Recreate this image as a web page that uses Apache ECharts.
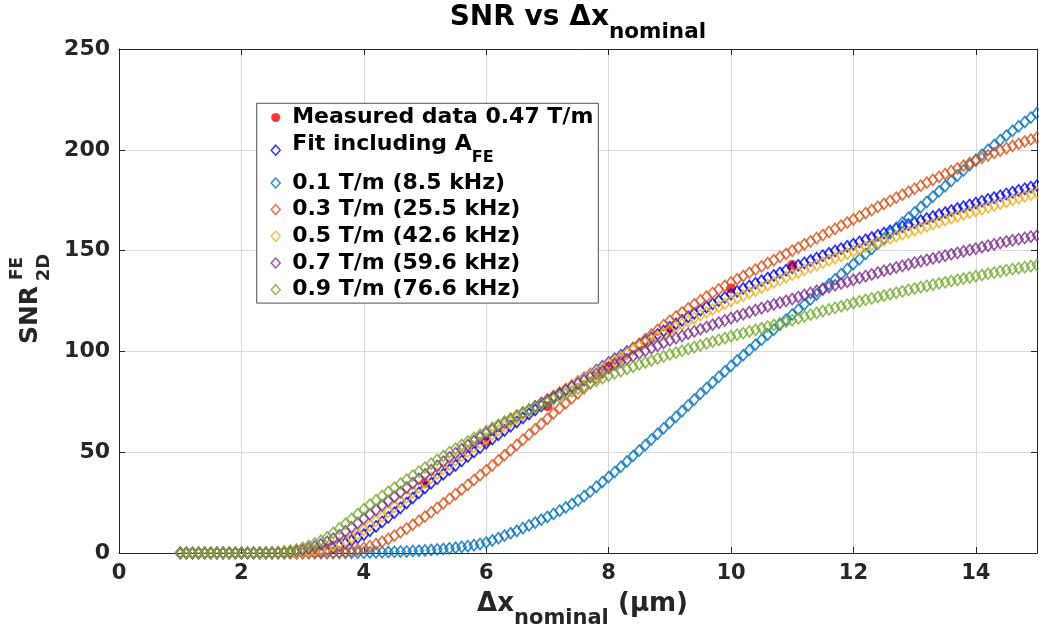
<!DOCTYPE html>
<html><head><meta charset="utf-8">
<script src="https://cdn.jsdelivr.net/npm/echarts@6/dist/echarts.min.js"></script>
<style>html,body{margin:0;padding:0;background:#fff}#c{width:1039px;height:635px}</style>
</head><body><div id="c"></div>
<script>
// ---- data ----
const xStart = 1.0;   // first sample (um)
const xStep = 0.1;    // sample spacing (um)
const xTickLabels = ['0','2','4','6','8','10','12','14'];
const yTickLabels = ['0','50','100','150','200','250'];
const seriesNames = ['Measured data 0.47 T/m','Fit including A_FE','0.1 T/m (8.5 kHz)','0.3 T/m (25.5 kHz)','0.5 T/m (42.6 kHz)','0.7 T/m (59.6 kHz)','0.9 T/m (76.6 kHz)'];

const measuredX = [5,6,7,8,9,10,11];
const measuredY = [34.6,55.4,72.8,92.4,110.8,131.2,142.9];

const fitY = [
0,0,0,0,0,0,0,0,0,0,
0,0,0,0,0,0,0,0,0,0.1,
0.3,0.5,0.8,1.3,1.9,2.7,3.7,4.9,6.2,7.6,
9.1,11.1,13.2,15.4,17.7,20.0,22.4,24.8,27.3,29.8,
32.3,34.6,36.9,39.1,41.3,43.5,45.7,47.9,50.1,52.3,
54.5,56.6,58.7,60.8,62.9,65.0,67.0,69.0,71.0,73.0,
75.0,77.0,79.0,81.0,83.0,85.0,86.9,88.8,90.7,92.6,
94.5,96.3,98.1,99.9,101.6,103.3,105.0,106.7,108.4,110.2,
112.0,113.7,115.4,117.1,118.8,120.4,122.0,123.6,125.2,126.8,
128.4,129.8,131.2,132.5,133.8,135.1,136.4,137.7,139.0,140.3,
141.5,142.7,143.9,145.1,146.3,147.5,148.7,149.9,151.0,152.1,
153.2,154.3,155.4,156.5,157.6,158.7,159.8,160.9,161.9,162.9,
163.9,164.9,165.9,166.9,167.9,168.9,169.9,170.9,171.8,172.7,
173.6,174.5,175.4,176.3,177.2,178.1,179.0,179.9,180.7,181.5,
182.3];

const g01Y = [
0,0,0,0,0,0,0,0,0,0,
0,0,0,0,0,0,0,0,0,0,
0,0,0,0,0,0,0.1,0.1,0.1,0.2,
0.2,0.3,0.3,0.4,0.5,0.6,0.7,0.8,1.0,1.1,
1.3,1.5,1.8,2.0,2.3,2.6,3.0,3.4,3.9,4.5,
5.2,6.2,7.4,8.6,9.8,11.0,12.3,13.7,15.1,16.5,
17.9,19.4,21.0,22.6,24.3,26.1,28.2,30.4,32.8,35.2,
37.7,40.2,42.8,45.4,48.1,50.8,53.5,56.3,59.1,61.9,
64.7,67.5,70.4,73.2,76.1,79.0,81.8,84.6,87.4,90.1,
92.8,95.5,98.1,100.7,103.3,105.8,108.3,110.8,113.3,115.8,
118.3,120.8,123.3,125.8,128.3,130.8,133.3,135.8,138.3,140.8,
143.3,145.8,148.3,150.8,153.4,156.0,158.6,161.2,163.8,166.4,
169.0,171.6,174.2,176.8,179.4,182.0,184.6,187.2,189.8,192.4,
195.0,197.5,200.0,202.4,204.8,207.1,209.4,211.6,213.8,216.0,
218.2];

const g03Y = [
0,0,0,0,0,0,0,0,0,0,
0,0,0,0,0,0,0,0,0,0,
0,0,0,0.1,0.1,0.2,0.4,0.7,1.1,1.7,
2.5,3.4,4.4,5.6,7.0,8.6,10.3,12.1,14.0,16.0,
18.1,20.2,22.4,24.6,26.9,29.2,31.5,33.8,36.2,38.6,
41.0,43.5,46.0,48.5,51.0,53.6,56.2,58.8,61.4,64.0,
66.6,69.2,71.8,74.3,76.8,79.3,81.8,84.3,86.8,89.3,
91.8,94.2,96.6,99.0,101.4,103.8,106.1,108.4,110.7,113.0,
115.2,117.3,119.4,121.4,123.4,125.3,127.2,129.0,130.8,132.5,
134.2,135.8,137.4,139.0,140.6,142.2,143.8,145.3,146.9,148.4,
150.0,151.5,153.1,154.6,156.2,157.7,159.3,160.8,162.4,163.9,
165.5,167.0,168.6,170.1,171.7,173.2,174.7,176.2,177.7,179.2,
180.7,182.2,183.7,185.1,186.6,188.0,189.4,190.8,192.1,193.4,
194.7,196.0,197.2,198.4,199.6,200.8,201.9,203.0,204.1,205.1,
206.1];

const g05Y = [
0,0,0,0,0,0,0,0,0,0,
0,0,0,0,0,0,0,0.1,0.2,0.3,
0.5,0.8,1.2,1.7,2.5,3.6,4.8,6.1,7.6,9.3,
11.5,13.6,15.8,18.1,20.4,22.8,25.2,27.7,30.2,32.6,
35.0,37.2,39.4,41.6,43.8,46.0,48.2,50.4,52.6,54.7,
56.8,58.8,60.8,62.8,64.8,66.8,68.7,70.6,72.5,74.4,
76.2,78.0,79.8,81.6,83.4,85.2,86.9,88.6,90.3,92.0,
94.0,95.7,97.4,99.1,100.8,102.5,104.1,105.7,107.3,108.9,
110.5,112.0,113.5,115.0,116.5,118.0,119.4,120.8,122.2,123.6,
125.0,126.4,127.7,129.0,130.3,131.6,132.9,134.2,135.5,136.8,
138.0,139.2,140.4,141.6,142.8,144.0,145.2,146.3,147.4,148.5,
149.6,150.7,151.8,152.9,154.0,155.1,156.1,157.1,158.1,159.1,
160.1,161.1,162.1,163.1,164.1,165.1,166.1,167.0,167.9,168.8,
169.7,170.6,171.5,172.4,173.3,174.2,175.1,176.0,176.9,177.8,
178.7];

const g07Y = [
0,0,0,0,0,0,0,0,0,0,
0,0,0,0,0,0.1,0.2,0.4,0.7,1.1,
1.6,2.3,3.2,4.3,5.6,7.1,8.8,10.7,12.7,14.8,
17.0,19.2,21.4,23.6,25.8,28.0,30.2,32.4,34.6,36.8,
39.0,41.1,43.2,45.3,47.4,49.5,51.5,53.5,55.5,57.5,
59.5,61.2,62.9,64.6,66.3,68.0,69.6,71.2,72.8,74.4,
76.0,77.6,79.2,80.8,82.4,84.0,85.6,87.2,88.8,90.4,
92.0,93.4,94.8,96.2,97.6,99.0,100.3,101.6,102.9,104.2,
105.5,106.6,107.7,108.8,109.9,111.0,112.1,113.2,114.3,115.4,
116.5,117.5,118.5,119.5,120.5,121.5,122.4,123.3,124.2,125.1,
126.0,127.0,128.0,129.0,130.0,131.0,131.9,132.8,133.7,134.6,
135.5,136.4,137.3,138.2,139.1,140.0,140.8,141.6,142.4,143.2,
144.0,144.7,145.4,146.1,146.8,147.5,148.2,148.9,149.6,150.3,
151.0,151.7,152.4,153.1,153.8,154.5,155.1,155.7,156.3,156.9,
157.5];

const g09Y = [
0,0,0,0,0,0,0,0,0,0,
0,0,0,0,0.1,0.2,0.4,0.7,1.2,1.8,
2.6,3.6,4.8,6.2,7.8,10.0,12.2,14.5,16.9,19.3,
21.7,24.0,26.2,28.3,30.4,32.4,34.4,36.4,38.4,40.4,
42.4,44.3,46.2,48.1,50.0,51.8,53.6,55.4,57.1,58.8,
60.5,62.1,63.7,65.2,66.7,68.2,69.6,71.0,72.4,73.7,
75.0,76.3,77.6,78.9,80.2,81.5,82.8,84.1,85.4,86.7,
88.0,89.1,90.2,91.3,92.4,93.5,94.5,95.5,96.5,97.5,
98.5,99.4,100.3,101.2,102.1,103.0,103.9,104.8,105.7,106.6,
107.5,108.3,109.1,109.9,110.7,111.5,112.3,113.1,113.9,114.7,
115.5,116.4,117.3,118.2,119.1,120.0,120.8,121.6,122.4,123.2,
124.0,124.8,125.6,126.3,127.0,127.7,128.4,129.1,129.8,130.5,
131.2,131.9,132.5,133.1,133.7,134.3,134.9,135.5,136.1,136.7,
137.3,137.9,138.5,139.1,139.7,140.3,140.8,141.3,141.8,142.3,
142.8];

// ---- chart ----
const FONT = "'DejaVu Sans', sans-serif";
const AXC = '#262626';
const pairs = ys => ys.map((v, i) => [Math.round((xStart + i * xStep) * 10) / 10, v]);
const curveColors = ['#0000FF','#0072BD','#D95319','#EDB120','#7E2F8E','#77AC30'];
const curves = [fitY, g01Y, g03Y, g05Y, g07Y, g09Y];

const series = [{
  name: seriesNames[0], type: 'scatter', symbol: 'circle', symbolSize: 10,
  itemStyle: {color: '#FF0000'},
  data: measuredX.map((x, i) => [x, measuredY[i]]), z: 2
}];
curves.forEach((ys, k) => {
  series.push({
    name: seriesNames[k + 1], type: 'scatter', symbol: 'diamond', symbolSize: [9, 11],
    itemStyle: {color: 'none', borderColor: curveColors[k], borderWidth: 1.7},
    data: pairs(ys), z: 2
  });
});

const legendData = seriesNames.map((n, i) => i === 0
  ? {name: n, itemStyle: {borderWidth: 0}}
  : {name: n, itemStyle: {borderWidth: 1.5, color: 'none', borderColor: curveColors[i - 1]}});

const tickLabelStyle = {fontFamily: FONT, fontWeight: 'bold', color: AXC};
const txt = (x, y, text, size, align, color, rot) => ({
  type: 'text', x: x, y: y, rotation: rot || 0, z: 10,
  style: {text: text, align: align, verticalAlign: 'middle',
    font: 'bold ' + size + "px 'DejaVu Sans', sans-serif", fill: color}
});

const chart = echarts.init(document.getElementById('c'), null, {renderer: 'canvas'});
chart.setOption({
  animation: false,
  backgroundColor: '#fff',
  grid: {left: 119, right: 2, top: 49, bottom: 82, containLabel: false},
  xAxis: [{
    type: 'value', min: 0, max: 15, interval: 2, position: 'bottom',
    axisLine: {show: true, onZero: false, lineStyle: {color: AXC, width: 1}},
    axisTick: {show: true, inside: true, length: 6, lineStyle: {color: AXC}},
    axisLabel: Object.assign({fontSize: 21, margin: 10, showMaxLabel: false,
      formatter: v => xTickLabels[xTickLabels.indexOf(String(v))] || ''}, tickLabelStyle),
    splitLine: {show: true, lineStyle: {color: '#dadada', width: 1}}
  }, {
    type: 'value', min: 0, max: 15, interval: 2, position: 'top',
    axisLine: {show: true, onZero: false, lineStyle: {color: AXC, width: 1}},
    axisTick: {show: true, inside: true, length: 6, lineStyle: {color: AXC}},
    axisLabel: {show: false}, splitLine: {show: false}
  }],
  yAxis: [{
    type: 'value', min: 0, max: 250, interval: 50, position: 'left',
    axisLine: {show: true, onZero: false, lineStyle: {color: AXC, width: 1}},
    axisTick: {show: true, inside: true, length: 6, lineStyle: {color: AXC}},
    axisLabel: Object.assign({fontSize: 22, margin: 9,
      formatter: v => yTickLabels[yTickLabels.indexOf(String(v))] || ''}, tickLabelStyle),
    splitLine: {show: true, lineStyle: {color: '#dadada', width: 1}}
  }, {
    type: 'value', min: 0, max: 250, interval: 50, position: 'right',
    axisLine: {show: true, onZero: false, lineStyle: {color: AXC, width: 1}},
    axisTick: {show: true, inside: true, length: 6, lineStyle: {color: AXC}},
    axisLabel: {show: false}, splitLine: {show: false}
  }],
  legend: {
    orient: 'vertical', left: 256.7, top: 103.3,
    padding: [3.2, 5, 2.4, 12], itemGap: 4.7, itemWidth: 9, itemHeight: 10,
    backgroundColor: '#fff', borderColor: AXC, borderWidth: 0.8, borderRadius: 0,
    textStyle: {
      fontFamily: FONT, fontWeight: 'bold', fontSize: 22, color: '#000', lineHeight: 22,
      padding: [0, 0, 0, 7],
      rich: {
        m: {fontFamily: FONT, fontWeight: 'bold', fontSize: 22, color: '#000', lineHeight: 20, padding: [0, 0, 12, 0]},
        s: {fontFamily: FONT, fontWeight: 'bold', fontSize: 16, color: '#000', lineHeight: 16, padding: [16, 0, 0, 0]}
      }
    },
    formatter: n => n === seriesNames[1] ? '{m|Fit including A}{s|FE}' : n,
    data: legendData
  },
  graphic: [
    txt(609, 18, 'SNR vs Δx', 28, 'right', '#000'),
    txt(609, 32, 'nominal', 21.5, 'left', '#000'),
    txt(514, 604, 'Δx', 26, 'right', AXC),
    txt(514, 619, 'nominal', 21, 'left', AXC),
    txt(618, 604, '(μm)', 26, 'left', AXC),
    txt(30, 315, 'SNR', 25, 'center', AXC, Math.PI / 2),
    txt(17.5, 268.5, 'FE', 17, 'center', AXC, Math.PI / 2),
    txt(44, 267.5, '2D', 18, 'center', AXC, Math.PI / 2)
  ],
  series: series
});
</script></body></html>
